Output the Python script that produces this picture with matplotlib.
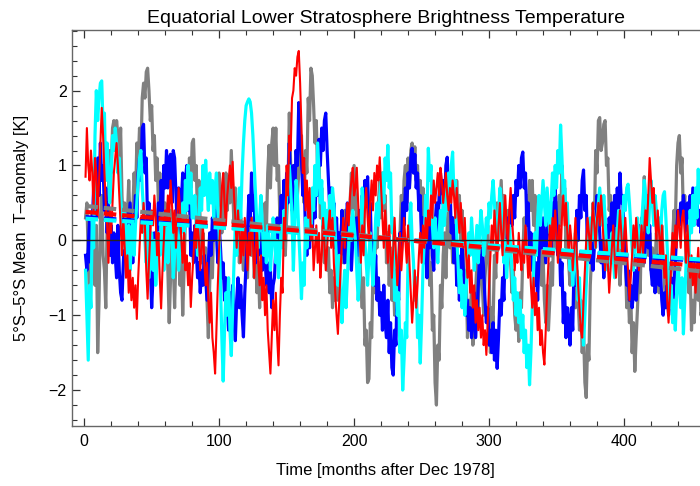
import matplotlib
matplotlib.use("Agg")
import matplotlib.pyplot as plt
from matplotlib.ticker import MultipleLocator
import numpy as np

plt.rcParams['font.family'] = ['Liberation Sans', 'DejaVu Sans']

title = "Equatorial Lower Stratosphere Brightness Temperature"
xlabel = "Time [months after Dec 1978]"
ylabel = "5°S–5°S Mean  T–anomaly [K]"

gray_series = [
    0.3, 0.5, -0.2, -0.9, 0.1, 0.4, -0.3, -0.6, 0.2, -1.5, -0.8, 0.3, 0.6, -0.2, -0.4, -0.9, 0.2, 0.7, 1.2, 0.9,
    1.5, 1.6, 1.2, 1.6, 1.4, 1.0, 1.5, 0.6, 0.2, 0.5, -0.1, 0.3, 0.8, 0.2, -0.3, 0.4, 0.9, 0.5, 1.3, 1.0,
    1.5, 1.1, 1.9, 2.1, 1.9, 2.25, 2.3, 2.0, 1.6, 1.8, 1.2, 1.4, 0.8, 1.1, 0.5, 0.9, 0.3, 0.7, 0.1, 0.5,
    0.3, -0.4, -1.1, -0.5, 0.2, -0.3, -0.9, -0.2, 0.4, 0.1, -0.6, -0.2, -1.0, -0.4, 0.3, 0.9, 0.4, 1.1, 0.7, 1.3,
    1.35, 0.8, 1.0, 0.3, 0.8, 0.2, -0.3, 0.1, -0.5, -0.1, -0.8, -1.3, -0.6, 0.0, -0.5, 0.3, 0.7, 0.1, 0.5, 0.9,
    0.6, 0.1, 0.7, 0.3, 0.9, 0.4, 0.8, 0.5, 1.2, 0.7, 0.2, 0.7, 0.0, 0.5, -0.3, 0.3, -0.1, -0.4, 0.2, -0.2,
    -0.5, 0.2, 0.4, -0.2, 0.3, -0.5, -0.1, -0.7, -0.3, -0.9, -0.2, 0.2, -0.3, 0.5, 0.1, 0.9, 1.27, 0.7, 1.3, 1.5,
    1.0, 1.5, 0.8, 1.0, 0.3, 0.6, 0.0, 0.4, -0.2, 0.3, 0.7, 1.7, 1.0, 0.5, 0.9, 0.3, 1.2, 0.6, 0.9, 1.1,
    1.4, 0.8, 0.5, 1.2, 0.9, 1.9, 1.6, 2.3, 2.2, 1.8, 1.3, 1.6, 0.9, 1.1, 0.3, 0.7, 0.0, -0.3, 0.3, -0.4,
    -0.1, -0.7, -0.4, -0.9, -0.5, -0.8, -0.2, -0.8, -0.4, 0.0, 0.3, -0.3, 0.4, 0.0, -0.3, 0.3, 0.5, 0.9, 0.4, 1.0,
    0.6, 0.2, -0.3, 0.1, -0.6, -0.9, -0.5, -1.4, -1.2, -1.9, -1.85, -1.1, -1.3, -0.4, -0.7, 0.2, -0.1, 0.5, 0.8, 0.3,
    0.9, 0.4, 0.6, -0.3, 0.1, -0.6, -0.1, -0.8, -0.4, -1.0, -0.5, -0.9, -0.2, 0.1, 0.6, 0.2, 0.8, 1.0, 0.5, 1.1,
    0.7, 1.2, 1.3, 0.9, 1.25, 0.8, 1.0, 0.5, 0.8, 0.2, 0.7, 0.0, 0.3, -0.4, 0.1, -0.6, -0.3, -1.2, -1.0, -1.9,
    -2.2, -1.4, -1.6, -0.6, -0.9, -0.2, 0.1, -0.5, 0.2, 0.5, -0.1, 0.2, -0.3, 0.3, -0.1, 0.8, 0.3, 0.6, 0.0, 0.4,
    -0.2, -0.7, -0.4, -1.3, -0.8, -1.1, -0.6, -1.4, -1.0, -0.7, -0.3, -0.9, -0.4, 0.0, -0.6, -1.0, -0.5, -0.2, 0.2, -0.3,
    -1.5, -0.9, -1.1, -0.2, -0.5, 0.5, 0.0, 0.4, 0.8, 0.2, 0.6, 0.1, -0.2, 0.4, -0.1, -0.3, -0.7, -0.4, -1.0, -1.2,
    -0.8, -1.35, -0.7, -0.9, -0.2, 0.3, -0.1, 0.6, 0.3, 0.8, 0.4, 0.8, 0.2, 0.6, 0.0, 0.3, -0.3, 0.1, -0.6, -0.2,
    -0.8, -1.1, -0.6, -1.2, -0.8, -0.3, -0.6, 0.3, -0.1, 0.5, 0.1, 0.6, 0.2, 1.0, 0.5, 0.7, -0.1, 0.3, -0.3, -0.6,
    -0.2, -0.6, -0.3, -0.9, -0.4, -0.8, -1.2, -0.8, -1.5, -1.2, -1.9, -2.1, -1.4, -1.6, -0.6, -0.2, 0.5, 0.2, 1.2, 0.9,
    1.6, 1.64, 1.2, 1.3, 1.55, 1.6, 1.0, 1.1, 0.4, 0.6, -0.3, 0.2, -0.4, 0.0, 0.3, -0.3, -0.6, -0.2, 0.2, -0.3,
    -0.2, -0.9, -0.6, -1.1, -0.7, -1.5, -1.1, -1.75, -1.3, -0.9, -0.4, -0.7, 0.3, 0.0, 0.85, 0.4, 0.6, -0.2, 0.1, -0.4,
    -0.1, -0.5, -0.3, 0.1, -0.4, -0.7, -0.3, 0.2, -0.2, -0.6, -0.9, -0.5, -0.3, -0.6, -0.4, 0.0, 0.4, 0.2, 1.0, 1.3,
    1.4, 0.9, 1.1, 0.3, 0.6, -0.3, 0.0, -0.7, -0.4, -1.2, -0.8, -1.1, -0.6, -0.3, -0.8, -0.5, -1.0, -0.6, -0.2, -0.5,
]

blue_series = [
    -0.2, -0.4, -0.1, 0.3, -0.3, 0.2, 0.7, 0.3, 0.9, 1.1, 0.6, 1.3, 0.8, 1.0, 0.4, 0.7, 0.1, 0.5, -0.2, 0.2,
    -0.3, 0.1, -0.2, -0.5, 0.2, -0.4, -0.7, -0.8, -0.3, 0.1, 0.4, -0.1, 0.2, 0.5, 0.1, -0.3, 0.2, 0.6, 0.3, 0.9,
    1.1, 0.8, 1.5, 1.55, 0.9, 1.1, 0.2, 0.5, -0.3, -0.9, -0.5, 0.1, -0.4, 0.2, 0.5, 0.1, 0.8, 0.4, 1.0, 0.7,
    1.2, 0.7, 1.1, 1.15, 0.5, 1.2, 1.1, 0.6, 0.2, 0.7, 0.1, 0.5, 0.9, 0.4, 0.8, 1.0, 0.4, 0.6, -0.2, 0.1,
    -0.3, 0.2, -0.1, -0.5, -0.3, -0.7, -0.4, -0.6, -0.2, -0.5, -0.8, -0.3, 0.1, -0.2, 0.3, 0.0, 0.4, 0.1, -0.3, 0.2,
    -0.1, -0.5, -0.3, -0.8, -0.5, -0.9, -1.2, -0.7, -1.0, -0.6, -1.1, -1.34, -0.8, -0.5, -0.9, -0.6, -1.0, -1.29, -0.7, -0.3,
    0.1, 0.6, 0.2, 0.9, 0.4, 0.6, -0.3, 0.2, -0.2, 0.3, 0.0, -0.4, 0.1, -0.2, -0.6, -0.3, -0.7, -0.4, -0.9, -0.6,
    -0.5, -0.1, 0.3, -0.2, 0.2, 0.6, 0.1, 0.8, 0.3, 0.9, 0.5, 1.3, 0.7, 0.4, 1.0, 0.6, 1.2, 1.0, 1.84, 1.4,
    1.1, 0.6, 0.8, 0.1, -0.2, 0.3, -0.1, 0.5, 0.1, 0.6, 0.3, 0.9, 0.6, 1.35, 1.0, 1.5, 1.2, 1.6, 1.7, 1.2,
    0.8, 0.4, 0.7, 0.2, 0.5, -0.1, 0.3, -0.3, 0.1, -0.2, 0.4, 0.1, -0.3, 0.2, 0.5, 0.2, -0.1, -0.4, 0.0, 0.3,
    0.0, 0.3, -0.2, 0.4, 0.1, 0.6, 0.3, 0.8, 0.5, 0.85, 0.3, 0.5, -0.3, 0.0, -0.6, -0.2, -0.8, -0.5, -1.0, -0.7,
    -1.2, -0.6, -1.1, -1.3, -0.8, -1.5, -1.1, -1.7, -1.8, -1.2, -1.4, -0.5, -0.8, 0.1, -0.2, 0.5, 0.2, 0.7, 0.4, 0.9,
    0.7, 1.1, 1.23, 0.9, 1.15, 0.7, 0.9, 0.4, 0.6, 0.0, 0.3, -0.3, 0.0, -0.5, 0.2, -0.1, 0.3, -0.2, -0.4, 0.2,
    0.5, 0.1, 0.6, 0.9, 0.5, 0.8, 0.4, 1.0, 1.11, 0.6, 0.8, 0.1, 0.3, -0.3, 0.2, -0.6, -0.2, -0.8, -0.4, -0.1,
    -0.4, -0.7, -1.0, -0.8, -1.2, -0.9, -1.3, -1.1, -0.7, -1.3, -1.0, -0.6, -0.2, -0.5, -0.1, -0.4, -0.8, -1.1, -0.9, -1.4,
    -1.2, -1.5, -1.1, -1.6, -1.2, -1.71, -1.3, -0.8, -1.0, -0.5, -0.8, 0.0, -0.3, 0.3, 0.0, 0.5, 0.2, 0.6, 0.3, 0.8,
    0.6, 1.0, 0.7, 1.1, 1.18, 0.7, 0.9, 0.2, 0.5, -0.2, 0.1, -0.4, -0.1, -0.6, -0.3, -0.8, -0.2, 0.2, -0.1, 0.3,
    0.0, -0.3, 0.2, 0.5, 0.1, -0.1, 0.5, 0.2, 0.7, 0.3, -0.2, 0.1, -0.6, -0.3, -1.1, -0.7, -1.3, -0.9, -1.1, -1.4,
    -0.9, -1.2, -0.3, -0.6, 0.4, 0.0, 0.6, 0.3, 0.8, 0.94, 0.4, 0.6, -0.2, 0.1, -0.3, 0.0, -0.4, -0.1, 0.3, 0.6,
    0.4, 0.1, -0.3, 0.0, -0.5, -0.2, 0.2, -0.1, 0.3, 0.1, 0.5, 0.0, 0.6, 0.2, 0.7, 0.3, 0.9, 0.5, 0.6, 0.1,
    -0.3, -0.6, -0.4, -0.8, -0.6, -0.9, -0.7, -0.4, -0.8, -0.5, -0.1, 0.2, -0.2, 0.1, -0.3, 0.0, 0.3, -0.1, 0.2, -0.4,
    -0.6, -0.3, -0.7, -0.5, -0.2, -0.6, -0.4, -0.8, -1.0, -0.7, -0.9, -0.6, -1.0, -0.8, -0.5, -0.9, -0.6, -0.3, 0.1, 0.4,
    0.2, 0.5, 0.3, 0.6, 0.4, 0.1, 0.5, 0.3, 0.6, 0.2, 0.7, 0.5, 0.3, 0.6, 0.2, 0.4, 0.1, 0.3, 0.5, 0.2,
]

cyan_series = [
    -0.4, -1.0, -1.6, -0.6, -0.9, 0.3, -0.1, 1.4, 2.0, 1.6, 1.9, 2.1, 2.13, 1.5, 1.7, 0.8, 1.3, 0.9, 0.5, 0.9,
    1.4, 1.2, 1.5, 1.3, 0.9, 1.1, 0.6, 0.3, -0.1, 0.4, 0.1, -0.3, 0.2, -0.4, 0.0, 0.3, -0.2, 0.2, 0.5, 0.8,
    1.1, 1.2, 0.7, 0.4, 0.0, -0.3, 0.2, -0.5, -0.2, 0.1, -0.4, 0.0, -0.6, -0.3, 0.1, -0.2, 0.3, 0.0, -0.4, -0.1,
    0.2, -0.3, 0.1, 0.4, 0.0, -0.5, -0.2, 0.3, 0.1, -0.4, -0.1, 0.2, 0.5, 0.1, 0.8, 0.4, 1.0, 0.5, 0.9, 0.3,
    0.3, 0.6, 0.2, -0.2, 0.3, 0.7, 0.4, 1.0, 0.6, 1.07, 0.7, 0.4, 0.9, 0.5, 0.8, 0.3, 0.7, 0.9, 0.4, 0.1,
    -0.6, -1.3, -1.88, -1.2, -0.7, -1.0, -0.5, -1.2, -1.54, -0.9, -0.3, 0.2, -0.2, 0.4, 0.7, 0.3, 0.9, 1.3, 1.6, 1.8,
    1.85, 1.89, 1.85, 1.7, 1.4, 1.0, 0.6, 0.2, -0.1, 0.3, 0.6, 0.2, -0.2, 0.1, -0.3, 0.2, 0.0, -0.4, -0.1, 0.3,
    0.1, -0.3, 0.0, -0.5, -0.2, 0.2, -0.1, 0.4, 0.1, 0.6, 0.9, 1.0, 0.7, 0.3, -0.4, 0.2, 0.8, 0.6, 0.1, -0.3,
    -0.78, -0.3, -0.6, 0.3, -0.1, 0.2, 0.5, 0.1, 0.7, 0.4, 1.0, 0.6, 1.3, 0.9, 0.5, 0.8, 0.2, 0.5, -0.1, 0.4,
    0.2, 0.6, 0.3, 0.7, 0.5, 0.1, -0.3, -0.6, -0.2, -0.8, -1.1, -0.7, -0.4, -0.9, -0.5, -0.1, 0.3, 0.0, 0.4, 0.2,
    0.0, -0.4, -0.8, -0.5, 0.2, 0.7, 0.4, 0.0, -0.3, -0.6, -0.2, 0.1, -0.3, -0.6, -0.2, 0.3, 0.5, 0.2, 0.6, 0.8,
    0.9, 0.5, 1.1, 0.8, 1.27, 0.7, 0.9, 0.1, 0.3, -0.8, -0.4, -1.0, -0.7, -1.5, -1.2, -2.0, -1.6, -1.1, -1.3, -0.2,
    0.2, 0.5, 0.0, -0.3, -0.8, -0.5, -1.3, -1.0, -1.64, -1.1, -0.4, 0.0, 0.6, 0.3, 1.23, 0.8, 1.0, 0.2, -0.1, 0.3,
    0.0, -0.3, 0.1, 0.4, 0.0, 0.6, 0.2, 0.8, 0.4, 0.9, 0.5, 1.0, 1.18, 0.6, 0.8, 0.1, -0.3, -0.7, -0.4, -0.9,
    -0.6, -1.0, -0.7, -0.3, 0.1, -0.2, 0.3, 0.0, -0.4, -0.1, 0.2, -0.3, 0.1, 0.4, 0.2, -0.2, 0.0, 0.3, 0.1, 0.5,
    0.3, 0.6, 0.8, 0.5, 0.2, -0.1, 0.3, 0.7, 0.5, 0.1, -0.3, 0.0, -0.5, -0.2, 0.2, -0.1, -0.4, -0.8, -0.5, -1.0,
    -0.7, -1.1, -0.8, -1.3, -1.0, -1.5, -1.2, -1.7, -1.4, -1.93, -1.5, -0.9, -0.4, 0.1, -0.2, 0.3, 0.6, 0.2, 0.5, 0.8,
    0.5, 0.2, 0.7, 0.4, 0.1, 0.5, 0.9, 0.6, 1.0, 0.7, 1.2, 0.9, 1.54, 1.1, 0.6, 0.8, 0.3, 0.5, -0.1, -0.4,
    -0.2, -0.6, -0.3, 0.1, -0.4, -0.8, -0.5, -1.1, -0.9, -1.4, -1.0, -0.6, -0.2, 0.1, 0.3, 0.0, 0.4, 0.2, -0.1, 0.3,
    0.5, 0.7, 0.4, 0.2, 0.6, 0.3, -0.1, -0.4, 0.0, -0.3, 0.1, -0.2, -0.5, -0.2, 0.1, 0.4, 0.2, -0.1, 0.3, 0.6,
    0.4, 0.7, 0.75, 0.5, 0.2, -0.1, -0.4, -0.2, 0.1, 0.3, 0.0, -0.3, 0.2, 0.5, 0.8, 0.6, 0.3, 0.1, 0.5, 0.8,
    0.5, 0.2, 0.6, 0.4, 0.1, 0.3, 0.0, 0.4, 0.6, 0.65, 0.3, -0.1, -0.5, -0.9, -0.6, -1.1, -0.8, -1.2, -0.7, -0.3,
    -0.6, -0.9, -0.5, -1.25, -0.8, -0.3, 0.1, -0.2, 0.4, 0.1, 0.6, 0.2, 0.7, 0.3, 0.95, 0.5, 0.9, 0.4, 0.95, 0.7,
]

red_series = [
    0.85, 1.5, 1.0, 0.8, 1.2, 0.9, 0.4, 1.1, 0.9, 0.3, 0.8, 1.3, 1.77, 1.4, 0.9, 0.5, 0.2, -0.3, 0.4, 0.1,
    0.5, 0.9, 1.1, 1.3, 1.0, 0.6, 0.2, -0.2, 0.3, -0.1, -0.5, -0.2, -0.7, -0.4, -0.8, -0.5, -0.9, -0.6, -1.05, -0.5,
    -0.1, 0.3, 0.1, 0.5, 0.2, -0.4, -0.78, -0.3, 0.1, 0.4, 0.2, 0.6, 0.3, -0.2, 0.1, -0.5, -0.91, -0.4, 0.0, 0.4,
    0.2, 0.6, 0.3, 0.8, 0.5, 0.1, 0.4, -0.1, 0.3, 0.7, 0.4, 0.0, -0.3, 0.1, -0.4, -0.2, -0.6, -0.3, -0.89, -0.5,
    -0.2, 0.2, -0.1, 0.3, 0.0, -0.4, -0.1, 0.2, -0.3, -0.6, -0.3, -0.8, -1.1, -0.7, -1.3, -1.5, -1.78, -1.2, -0.6, -0.1,
    0.3, 0.7, 0.9, 0.5, 0.2, 0.6, 0.8, 1.0, 0.7, 1.05, 0.6, 0.3, -0.1, 0.4, 0.1, -0.3, 0.2, -0.2, 0.3, 0.0,
    -0.4, 0.1, -0.2, 0.3, 0.0, -0.5, -0.1, 0.2, -0.3, -0.6, -0.2, -0.8, -0.5, -1.0, -0.6, -1.2, -1.5, -1.78, -1.3, -0.8,
    -1.2, -0.7, -1.3, -1.67, -1.0, -0.5, -0.7, 0.3, 0.0, 1.0, 0.6, 1.4, 1.2, 1.9, 2.0, 2.3, 2.2, 2.45, 2.53, 2.1,
    1.5, 0.9, 1.1, 0.4, 0.8, 0.3, 0.7, 0.0, 0.2, -0.4, -0.1, 0.2, -0.3, 0.1, -0.5, -0.2, 0.3, 0.0, -0.4, -0.1,
    0.2, 0.4, -0.1, 0.3, -0.3, -0.7, -1.0, -1.25, -0.8, -0.4, 0.0, 0.3, -0.1, 0.2, 0.5, 0.2, 0.6, 0.8, 0.97, 0.6,
    0.7, 0.97, 0.5, 0.1, -0.3, 0.2, -0.2, 0.4, 0.7, 0.3, 0.0, 0.5, 0.8, 0.4, 0.9, 0.6, 1.0, 0.8, 1.11, 0.7,
    0.3, -0.1, 0.4, 0.1, -0.3, 0.2, -0.2, -0.5, -0.1, 0.3, -0.2, -0.6, -0.3, 0.1, -0.4, -0.1, 0.3, 0.0, -0.3, 0.2,
    -0.3, -0.7, -1.1, -0.8, -0.4, -0.9, -0.6, -0.2, 0.1, -0.3, 0.2, -0.1, 0.3, 0.0, 0.4, 0.2, 0.6, 0.3, 0.8, 0.5,
    0.7, 0.9, 0.6, 0.97, 0.8, 0.5, 0.7, 0.9, 0.6, 0.4, 0.7, 0.5, 0.8, 0.6, 0.3, 0.7, 0.4, 0.1, 0.5, 0.2,
    -0.1, 0.3, -0.2, -0.5, -0.2, -0.7, -0.4, -0.9, -0.6, -1.1, -0.8, -1.2, -0.9, -1.3, -1.0, -1.4, -1.2, -1.53, -1.1, -0.6,
    -0.2, 0.2, -0.1, 0.4, 0.1, -0.3, 0.2, 0.5, 0.1, -0.2, 0.3, 0.6, 0.2, -0.1, 0.4, 0.7, 0.3, 0.0, -0.4, -0.1,
    -0.3, 0.1, -0.2, -0.4, 0.0, -0.3, 0.2, -0.1, -0.5, -0.2, -0.6, -0.9, -0.5, -1.0, -0.7, -1.2, -0.9, -1.4, -1.2, -1.5,
    -1.66, -1.2, -0.7, -0.3, 0.2, -0.1, 0.3, 0.0, 0.4, 0.1, -0.3, 0.2, -0.2, 0.3, 0.6, 0.2, 0.5, 0.1, -0.2, 0.2,
    0.0, -0.4, -0.1, 0.3, -0.2, -0.6, -0.9, -1.2, -1.3, -0.8, -0.4, 0.0, 0.3, 0.1, -0.2, 0.2, 0.5, 0.2, -0.1, 0.3,
    0.5, 0.2, 0.6, 0.3, -0.1, -0.4, 0.0, -0.3, -0.7, -0.4, -0.1, 0.2, -0.2, -0.5, -0.2, 0.1, 0.4, 0.1, -0.3, 0.0,
    0.3, -0.1, -0.4, -0.8, -0.5, -0.2, 0.2, -0.1, 0.3, 0.0, -0.4, -0.1, 0.2, -0.2, 0.1, 0.4, 0.2, 0.6, 1.1, 0.8,
    0.5, 0.7, 0.3, 0.0, 0.4, 0.1, -0.3, 0.2, -0.2, -0.5, -0.2, -0.8, -1.1, -0.7, -0.3, 0.1, -0.2, 0.2, -0.1, 0.4,
    0.2, -0.1, 0.3, 0.4, 0.1, -0.3, 0.2, -0.2, -0.5, -0.2, -0.6, -0.3, -0.7, -0.4, -0.1, -0.5, -0.3, -0.6, -0.35, -0.4,
]

# linear trend lines: value at first and last month
trend_months = [1, 460]
gray_trend = [0.46, -0.42]
blue_trend = [0.31, -0.28]
cyan_trend = [0.29, -0.26]
red_trend = [0.38, -0.35]

xticks = [0, 100, 200, 300, 400]
yticks = [-2, -1, 0, 1, 2]

months = np.arange(1, len(gray_series) + 1)

fig = plt.figure(figsize=(7.0, 4.86), dpi=100)
ax = fig.add_axes([71.5 / 700, 60 / 486, 1 - 71.5 / 700, 396 / 486])

ax.plot(months, gray_series, color='#808080', lw=2.3, zorder=2, solid_joinstyle='round')
ax.plot(months, blue_series, color='#0000ff', lw=2.3, zorder=3, solid_joinstyle='round')
ax.plot(months, cyan_series, color='#00ffff', lw=2.3, zorder=4, solid_joinstyle='round')
ax.plot(months, red_series, color='#ff0000', lw=1.5, zorder=5, solid_joinstyle='round')

for tr, c in [(gray_trend, '#808080'), (blue_trend, '#0000ff'),
              (cyan_trend, '#00ffff'), (red_trend, '#ff0000')]:
    ax.plot(trend_months, tr, color=c, lw=3.0, dashes=(3.0, 1.4), zorder=6)

ax.axhline(0, color='#222222', lw=1.0, zorder=7)

ax.set_xlim(-9.4, 456.3)
ax.set_ylim(-2.48, 2.81)
ax.set_xticks(xticks)
ax.set_yticks(yticks)
ax.set_yticklabels([str(v).replace('-', '\u2212') for v in yticks])
ax.xaxis.set_minor_locator(MultipleLocator(20))
ax.yaxis.set_minor_locator(MultipleLocator(0.2))
ax.tick_params(which='both', direction='in', top=True, right=False,
               colors='#333333', labelcolor='black', labelsize=11.5)
ax.tick_params(which='major', length=6, width=0.9)
ax.tick_params(which='minor', length=3.5, width=0.8)
ax.tick_params(axis='x', pad=6)
for s in ['left', 'bottom', 'top']:
    ax.spines[s].set_color('#666666')
    ax.spines[s].set_linewidth(1.0)
ax.spines['right'].set_visible(False)

ax.set_title(title, fontsize=14, pad=5)
ax.set_xlabel(xlabel, fontsize=12, labelpad=10)
ax.set_ylabel(ylabel, fontsize=12, labelpad=14)

fig.savefig('out.png', dpi=100)
